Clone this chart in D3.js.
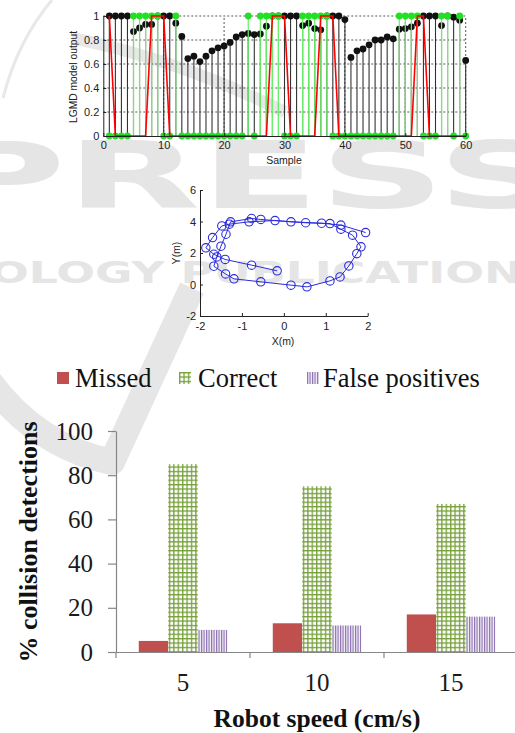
<!DOCTYPE html>
<html>
<head>
<meta charset="utf-8">
<script src="https://cdn.jsdelivr.net/npm/d3@7"></script>
<style>
  html, body { margin: 0; padding: 0; background: #fff; }
  svg { display: block; }
</style>
</head>
<body>
<svg id="fig" width="515" height="733"></svg>
<script>
// ---------- Panel 1: LGMD output per sample ----------
const samples = d3.range(1, 61);
const lgmdOutput = [
  1, 1, 1, 1, 0.87, 0.90, 0.93, 0.93, 1, 1,
  1, 0.94, 0.83, 0.645, 0.665, 0.62, 0.665, 0.71, 0.735, 0.75,
  0.78, 0.825, 0.845, 0.855, 0.845, 0.85, 0.915, 1, 1, 1,
  1, 1, 0.92, 0.94, 0.895, 0.885, 1, 1, 1, 0.97,
  0.655, 0.71, 0.725, 0.76, 0.80, 0.80, 0.825, 0.81, 0.89, 0.895,
  0.91, 0.94, 1, 1, 1, 0.92, 1, 0.99, 0.965, 0.63
];
const detectorOutput = [
  0, 0, 0, 0, 1, 1, 1, 1, 1, 0,
  0, 1, 0, 0, 0, 0, 0, 0, 0, 0,
  0, 0, 0, 1, 0, 1, 1, 1, 1, 0,
  0, 0, 1, 1, 1, 1, 1, 0, 0, 0,
  0, 0, 0, 0, 0, 0, 0, 0, 1, 1,
  1, 1, 0, 0, 0, 1, 1, 0, 1, 0
];
const groundTruth = [
  1, 0, 0, 0, 0, 0, 0, 1, 1, 1,
  0, 0, 0, 0, 0, 0, 0, 0, 0, 0,
  0, 0, 0, 0, 0, 0, 0, 1, 1, 1,
  0, 0, 0, 0, 0, 1, 1, 1, 0, 0,
  0, 0, 0, 0, 0, 0, 0, 0, 0, 0,
  0, 1, 1, 0, 0, 0, 0, 0, 0, 0
];
const sampleTicks = [0, 10, 20, 30, 40, 50, 60];
const outputTicks = [0, 0.2, 0.4, 0.6, 0.8, 1];

// ---------- Panel 2: robot trajectory ----------
const trajX = [
  -0.16, -0.77, -1.40, -1.67, -1.86, -1.70, -1.48, -1.30, -0.83, -0.21,
  0.52, 1.10, 1.36, 1.64, 1.84, 1.74, 1.55, 1.34, 1.10, 0.55,
  0.17, -0.55, -1.19, -1.39, -1.67, -1.60, -1.50, -1.38, -1.27, -0.77,
  -0.55, 0.17, 0.90, 1.36, 1.95
];
const trajY = [
  0.87, 1.23, 1.59, 1.92, 2.33, 2.98, 3.72, 3.83, 3.98, 4.06,
  3.92, 3.87, 3.51, 3.13, 2.39, 1.96, 1.18, 0.48, 0.23, -0.15,
  -0.04, 0.17, 0.36, 0.67, 1.16, 1.75, 2.43, 3.19, 3.98, 4.19,
  4.13, 3.98, 3.89, 3.77, 3.30
];
const trajXTicks = [-2, -1, 0, 1, 2];
const trajYTicks = [-2, 0, 2, 4, 6];

// ---------- Panel 3: detection rates by robot speed ----------
const speeds = ["5", "10", "15"];
const seriesNames = ["Missed", "Correct", "False positives"];
const missed = [5, 13, 17];
const correct = [85, 75, 67];
const falsePositives = [10, 12, 16];
const percentTicks = [0, 20, 40, 60, 80, 100];

const svg = d3.select("#fig");
const SANS = "'Liberation Sans', Arial, sans-serif";
const SERIF = "'Liberation Serif', 'Times New Roman', serif";

// ---------- fill patterns ----------
const defs = svg.append("defs");
const hatch = defs.append("pattern").attr("id", "hatchGreen")
  .attr("patternUnits", "userSpaceOnUse").attr("width", 4.4).attr("height", 4.4);
hatch.append("rect").attr("width", 4.4).attr("height", 4.4).attr("fill", "#fff");
hatch.append("path").attr("d", "M0,0.7H4.4M0.7,0V4.4")
  .attr("stroke", "#76a03a").attr("stroke-width", 1.3);
const stripe = defs.append("pattern").attr("id", "stripePurple")
  .attr("patternUnits", "userSpaceOnUse").attr("width", 2.5).attr("height", 4);
stripe.append("rect").attr("width", 2.5).attr("height", 4).attr("fill", "#f4f0f8");
stripe.append("path").attr("d", "M0.6,0V4")
  .attr("stroke", "#8467ab").attr("stroke-width", 1.1);

// ---------- publisher watermark (background) ----------
const wm = svg.append("g").attr("fill", "#e5e5e5").attr("stroke", "none");
wm.append("path").attr("d", "M3,98 Q18,40 52,0")
  .attr("fill", "none").attr("stroke", "#e8e8e8").attr("stroke-width", 3);
wm.append("path").attr("d", "M72,38 Q180,60 285,112")
  .attr("fill", "none").attr("stroke", "#e8e8e8").attr("stroke-width", 12);
wm.append("text").attr("x", -62).attr("y", 208)
  .attr("font-family", "'DejaVu Sans', sans-serif").attr("font-weight", "bold")
  .attr("font-size", 92).attr("textLength", 625).attr("lengthAdjust", "spacingAndGlyphs")
  .text("PRESS");
wm.append("text").attr("x", -10).attr("y", 283)
  .attr("font-family", "'DejaVu Sans', sans-serif").attr("font-weight", "bold")
  .attr("font-size", 31).attr("textLength", 565).attr("lengthAdjust", "spacingAndGlyphs")
  .text("OLOGY PUBLICATIONS");
wm.append("path").attr("d", "M-20,368 Q30,445 112,462 L192,288")
  .attr("fill", "none").attr("stroke", "#e6e6e6").attr("stroke-width", 26)
  .attr("stroke-linejoin", "round");

// =============== Panel 1 ===============
const xS = d3.scaleLinear().domain([0, 60]).range([103.3, 465.7]);
const yS = d3.scaleLinear().domain([0, 1]).range([136, 16]);
const p1 = svg.append("g");

// dotted grid
p1.append("g").selectAll("line").data(outputTicks.filter(d => d > 0)).join("line")
  .attr("x1", xS(0)).attr("x2", xS(60)).attr("y1", d => yS(d)).attr("y2", d => yS(d))
  .attr("stroke", "#444").attr("stroke-width", 0.9).attr("stroke-dasharray", "2,2");
p1.append("g").selectAll("line").data(sampleTicks.filter(d => d > 0)).join("line")
  .attr("x1", d => xS(d)).attr("x2", d => xS(d)).attr("y1", yS(0)).attr("y2", yS(1))
  .attr("stroke", "#444").attr("stroke-width", 0.9).attr("stroke-dasharray", "2,2");

// LGMD output stems
const blk = p1.append("g");
blk.selectAll("line").data(samples).join("line")
  .attr("x1", d => xS(d)).attr("x2", d => xS(d))
  .attr("y1", yS(0)).attr("y2", d => yS(lgmdOutput[d - 1]))
  .attr("stroke", "#333").attr("stroke-width", 1.1);
blk.selectAll("circle").data(samples).join("circle")
  .attr("cx", d => xS(d)).attr("cy", d => yS(lgmdOutput[d - 1])).attr("r", 3.4)
  .attr("fill", "#111");

// detector output stems
const grn = p1.append("g");
grn.selectAll("line").data(samples).join("line")
  .attr("x1", d => xS(d)).attr("x2", d => xS(d))
  .attr("y1", yS(0)).attr("y2", d => yS(detectorOutput[d - 1]))
  .attr("stroke", "#6bee6b").attr("stroke-width", 1.2);
grn.selectAll("circle").data(samples).join("circle")
  .attr("cx", d => xS(d)).attr("cy", d => yS(detectorOutput[d - 1])).attr("r", 3.4)
  .attr("fill", "#22e022");

// ground truth line
p1.append("path").datum(samples)
  .attr("d", d3.line().x(d => xS(d)).y(d => yS(groundTruth[d - 1])))
  .attr("fill", "none").attr("stroke", "#f00").attr("stroke-width", 1.6);

// axes
const ax1 = p1.append("g");
ax1.append("g").attr("transform", `translate(0,${yS(0)})`)
  .call(d3.axisBottom(xS).tickValues(sampleTicks).tickSize(-3).tickSizeOuter(0).tickPadding(5)
    .tickFormat(d => String(d)));
ax1.append("g").attr("transform", `translate(${xS(0)},0)`)
  .call(d3.axisLeft(yS).tickValues(outputTicks).tickSize(-3).tickSizeOuter(0).tickPadding(4)
    .tickFormat(d => String(d)));
ax1.selectAll("g").attr("font-family", SANS).attr("font-size", 11);
ax1.selectAll(".domain, .tick line").attr("stroke", "#222");
ax1.selectAll(".tick text").attr("fill", "#222");
p1.append("text").attr("x", 284).attr("y", 164).attr("text-anchor", "middle")
  .attr("font-family", SANS).attr("font-size", 10.5).attr("fill", "#222").text("Sample");
p1.append("text").attr("transform", "translate(77,77) rotate(-90)").attr("text-anchor", "middle")
  .attr("font-family", SANS).attr("font-size", 10.3).attr("fill", "#222").text("LGMD model output");

// =============== Panel 2 ===============
const xT = d3.scaleLinear().domain([-2, 2]).range([200, 367.7]);
const yT = d3.scaleLinear().domain([-2, 6]).range([316, 190]);
const p2 = svg.append("g");
const idx = d3.range(trajX.length);
p2.append("path").datum(idx)
  .attr("d", d3.line().x(i => xT(trajX[i])).y(i => yT(trajY[i])))
  .attr("fill", "none").attr("stroke", "#2b2bdc").attr("stroke-width", 1);
p2.append("g").selectAll("circle").data(idx).join("circle")
  .attr("cx", i => xT(trajX[i])).attr("cy", i => yT(trajY[i])).attr("r", 4.2)
  .attr("fill", "none").attr("stroke", "#2b2bdc").attr("stroke-width", 1.1);

const ax2 = p2.append("g");
ax2.append("g").attr("transform", `translate(0,${yT(-2)})`)
  .call(d3.axisBottom(xT).tickValues(trajXTicks).tickSize(-3).tickSizeOuter(0).tickPadding(6)
    .tickFormat(d => String(d)));
ax2.append("g").attr("transform", `translate(${xT(-2)},0)`)
  .call(d3.axisLeft(yT).tickValues(trajYTicks).tickSize(-3).tickSizeOuter(0).tickPadding(4)
    .tickFormat(d => String(d)));
ax2.selectAll("g").attr("font-family", SANS).attr("font-size", 11);
ax2.selectAll(".domain, .tick line").attr("stroke", "#222");
ax2.selectAll(".tick text").attr("fill", "#222");
p2.append("text").attr("x", 283).attr("y", 345).attr("text-anchor", "middle")
  .attr("font-family", SANS).attr("font-size", 10.5).attr("fill", "#222").text("X(m)");
p2.append("text").attr("transform", "translate(180,253) rotate(-90)").attr("text-anchor", "middle")
  .attr("font-family", SANS).attr("font-size", 10.5).attr("fill", "#222").text("Y(m)");

// =============== Panel 3 ===============
const rows = speeds.map((s, i) => ({ speed: s, values: [missed[i], correct[i], falsePositives[i]] }));
const fills = ["#c0504d", "url(#hatchGreen)", "url(#stripePurple)"];
const x0 = d3.scaleBand().domain(speeds).range([116, 518]);
const x1 = d3.scaleBand().domain(seriesNames)
  .range([x0.bandwidth() * 0.17, x0.bandwidth() * 0.83]);
const yP = d3.scaleLinear().domain([0, 100]).range([652, 431]);
const p3 = svg.append("g");

p3.append("g").selectAll("g").data(rows).join("g")
  .attr("transform", d => `translate(${x0(d.speed)},0)`)
  .selectAll("rect").data(d => d.values.map((v, k) => ({ key: seriesNames[k], v, k })))
  .join("rect")
  .attr("x", d => x1(d.key)).attr("width", x1.bandwidth())
  .attr("y", d => yP(d.v)).attr("height", d => yP(0) - yP(d.v))
  .attr("fill", d => fills[d.k]);

const ax3 = p3.append("g");
ax3.append("g").attr("transform", `translate(${x0.range()[0]},0)`)
  .call(d3.axisLeft(yP).tickValues(percentTicks).tickSize(8).tickSizeOuter(0).tickPadding(15)
    .tickFormat(d => String(d)));
ax3.append("g").attr("transform", `translate(0,${yP(0)})`)
  .call(d3.axisBottom(x0).tickSize(0).tickSizeOuter(0).tickPadding(21.5));
ax3.append("g").selectAll("line").data(speeds).join("line")
  .attr("x1", d => x0(d)).attr("x2", d => x0(d))
  .attr("y1", yP(0)).attr("y2", yP(0) + 6);
ax3.selectAll("g").attr("font-family", SERIF).attr("font-size", 25);
ax3.selectAll(".domain, .tick line, line").attr("stroke", "#868686").attr("stroke-width", 1.2);
ax3.selectAll(".tick text").attr("fill", "#1a1a1a");

p3.append("text").attr("transform", "translate(37,542) rotate(-90)").attr("text-anchor", "middle")
  .attr("font-family", SERIF).attr("font-weight", "bold").attr("font-size", 26)
  .attr("fill", "#111").text("% collision detections");
p3.append("text").attr("x", 317).attr("y", 727).attr("text-anchor", "middle")
  .attr("font-family", SERIF).attr("font-weight", "bold").attr("font-size", 25.5)
  .attr("fill", "#111").text("Robot speed (cm/s)");

// legend
const legendX = [57, 179, 307];
const lg = p3.append("g").selectAll("g").data(seriesNames).join("g")
  .attr("transform", (d, i) => `translate(${legendX[i]},372)`);
lg.append("rect").attr("width", 12).attr("height", 12).attr("fill", (d, i) => fills[i]);
lg.append("text").attr("x", (d, i) => [18, 19, 16][i]).attr("y", 14.5)
  .attr("font-family", SERIF).attr("font-size", 26.5).attr("fill", "#111").text(d => d);
</script>
</body>
</html>
